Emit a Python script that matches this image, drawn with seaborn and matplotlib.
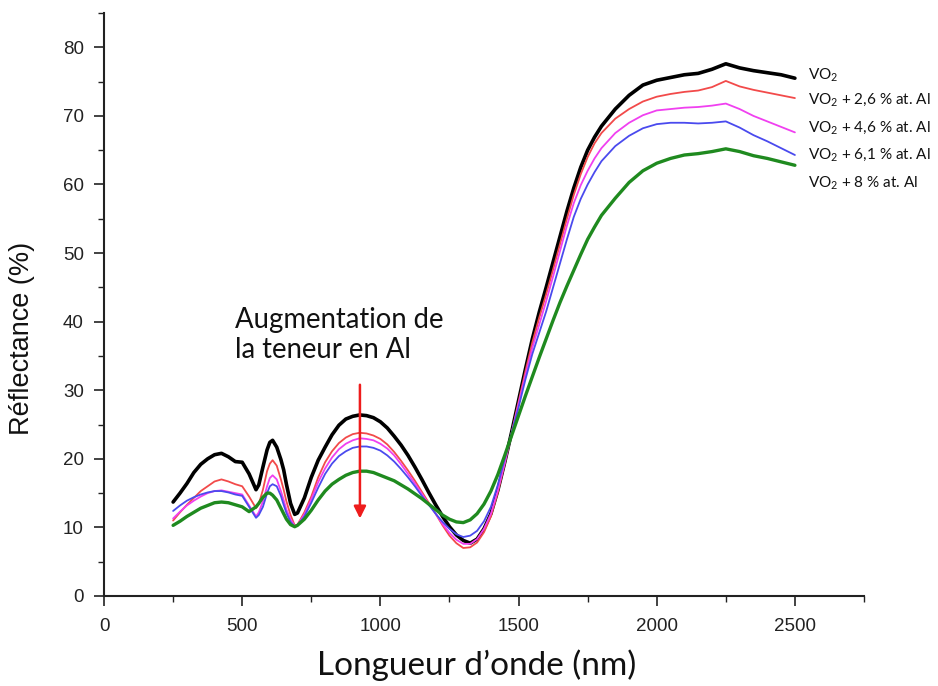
import matplotlib
matplotlib.use("Agg")
import matplotlib.pyplot as plt
import numpy as np
import pandas as pd
import seaborn as sns
from matplotlib import font_manager as fm
from matplotlib.ticker import MultipleLocator

# ---------------- data ----------------
wavelength = [250, 275, 300, 325, 350, 375, 400, 425, 450, 475, 500, 525, 550, 560, 575,
              590, 600, 610, 625, 640, 650, 660, 675, 690, 700, 725, 750, 775, 800, 825,
              850, 875, 900, 925,
              950, 975, 1000, 1025, 1050, 1075, 1100, 1125, 1150, 1175, 1200, 1225,
              1250, 1275, 1300, 1325, 1350, 1375, 1400, 1425, 1450, 1475, 1500, 1525,
              1550, 1575, 1600, 1625, 1650, 1675, 1700, 1725, 1750, 1775, 1800,
              1850, 1900, 1950, 2000, 2050, 2100, 2150, 2200, 2250, 2300, 2350,
              2400, 2450, 2500]

r_vo2 = [13.7, 15.0, 16.4, 18.0, 19.2, 20.0, 20.6, 20.8, 20.3, 19.6, 19.5, 17.8, 15.5, 16.2, 18.8,
         21.3, 22.4, 22.7, 21.7, 19.9, 18.4, 16.3, 13.5, 11.9, 12.1, 14.3, 17.3, 19.8, 21.7, 23.5,
         24.9, 25.8, 26.2, 26.4,
         26.3, 26.0, 25.4, 24.5, 23.3, 22.0, 20.5, 18.8, 17.0, 15.1, 13.3, 11.6,
         10.1, 8.9, 8.1, 7.7, 8.3, 9.8, 12.0, 15.4, 19.5, 23.9, 28.5, 33.1,
         37.5, 41.4, 45.0, 48.7, 52.4, 56.1, 59.5, 62.5, 65.0, 66.9, 68.5,
         71.0, 73.0, 74.5, 75.2, 75.6, 76.0, 76.2, 76.8, 77.6, 77.0, 76.6,
         76.3, 76.0, 75.5]

r_al26 = [11.0, 12.2, 13.3, 14.3, 15.3, 16.0, 16.7, 17.0, 16.7, 16.3, 16.0, 14.5, 12.8, 13.4, 15.5,
          18.2, 19.3, 19.8, 19.0, 17.0, 15.5, 13.8, 11.8, 10.3, 10.4, 12.2, 14.5, 17.3, 19.5, 21.1,
          22.3, 23.1, 23.6, 23.8,
          23.7, 23.4, 22.9, 22.1, 21.0, 19.7, 18.3, 16.8, 15.2, 13.6, 12.0, 10.3,
          8.8, 7.7, 7.0, 7.1, 7.8, 9.3, 11.6, 15.1, 19.3, 23.8, 28.3, 32.8,
          37.0, 40.6, 44.0, 47.6, 51.3, 55.0, 58.5, 61.5, 64.0, 66.0, 67.5,
          69.6, 71.0, 72.1, 72.8, 73.2, 73.5, 73.7, 74.2, 75.1, 74.3, 73.8,
          73.4, 73.0, 72.6]

r_al46 = [11.3, 12.3, 13.2, 13.9, 14.5, 15.0, 15.3, 15.4, 15.2, 15.0, 14.8, 13.2, 11.6, 12.2, 13.8,
          16.0, 17.2, 17.6, 17.0, 15.3, 14.0, 12.6, 11.2, 10.2, 10.3, 11.9, 14.1, 16.6, 18.6, 20.2,
          21.4, 22.2, 22.7, 23.0,
          22.9, 22.7, 22.2, 21.5, 20.5, 19.2, 17.8, 16.4, 14.9, 13.4, 12.0, 10.5,
          9.2, 8.2, 7.6, 7.6, 8.3, 9.8, 12.0, 15.4, 19.4, 23.7, 28.0, 32.2,
          36.2, 39.6, 43.0, 46.6, 50.3, 54.0, 57.3, 59.9, 62.0, 63.8, 65.3,
          67.5, 69.0, 70.1, 70.8, 71.0, 71.2, 71.3, 71.5, 71.8, 71.0, 70.0,
          69.2, 68.4, 67.6]

r_al61 = [12.4, 13.2, 13.9, 14.4, 14.8, 15.1, 15.3, 15.3, 15.1, 14.8, 14.6, 13.0, 11.4, 11.8, 13.0,
          15.0, 16.0, 16.3, 16.0, 14.6, 13.3, 12.1, 10.8, 10.1, 10.3, 11.6, 13.6, 15.8, 17.8, 19.3,
          20.4, 21.1, 21.6, 21.8,
          21.8, 21.6, 21.2, 20.5, 19.6, 18.5, 17.3, 16.0, 14.6, 13.3, 12.0, 10.8,
          9.8, 9.0, 8.6, 8.8, 9.5, 10.9, 13.0, 16.2, 20.0, 23.8, 27.5, 31.6,
          35.3, 38.4, 41.5, 45.0, 48.5, 52.0, 55.3, 57.9, 60.0, 61.8, 63.4,
          65.6, 67.1, 68.2, 68.8, 69.0, 69.0, 68.9, 69.0, 69.2, 68.3, 67.2,
          66.3, 65.3, 64.3]

r_al80 = [10.3, 10.9, 11.6, 12.2, 12.8, 13.2, 13.6, 13.7, 13.6, 13.3, 13.0, 12.3, 13.0, 13.5, 14.4,
          15.0, 15.0, 14.7, 14.0, 12.8, 12.0, 11.2, 10.4, 10.1, 10.3, 11.2, 12.5, 14.0, 15.3, 16.3,
          17.0, 17.6, 18.0, 18.2,
          18.2, 18.0, 17.6, 17.2, 16.8, 16.2, 15.6, 14.9, 14.2, 13.4, 12.6, 11.8,
          11.2, 10.8, 10.7, 11.1, 12.0, 13.4, 15.3, 17.7, 20.5, 23.4, 26.3, 29.2,
          32.0, 34.8, 37.5, 40.2, 42.8, 45.2, 47.5, 49.8, 52.0, 53.8, 55.5,
          58.0, 60.3, 62.0, 63.1, 63.8, 64.3, 64.5, 64.8, 65.2, 64.8, 64.2,
          63.8, 63.3, 62.8]

series_names = ["VO$_\\mathregular{2}$",
                "VO$_\\mathregular{2}$ + 2,6 % at. Al",
                "VO$_\\mathregular{2}$ + 4,6 % at. Al",
                "VO$_\\mathregular{2}$ + 6,1 % at. Al",
                "VO$_\\mathregular{2}$ + 8 % at. Al"]
series_values = [r_vo2, r_al26, r_al46, r_al61, r_al80]

x_ticks = [0, 500, 1000, 1500, 2000, 2500]
y_ticks = [0, 10, 20, 30, 40, 50, 60, 70, 80]

# ---------------- styles ----------------
colors = ["#000000", "#f24a4a", "#f040f0", "#4a4aee", "#1f8a1f"]
widths = [2.6, 1.3, 1.3, 1.3, 2.4]
label_y = [75.9, 72.3, 68.2, 64.3, 60.2]

installed = {f.name for f in fm.fontManager.ttflist}
narrow = "Liberation Sans Narrow" if "Liberation Sans Narrow" in installed else "Liberation Sans"
text_font = "Lato"

sns.set_style("ticks")
plt.rcParams["font.family"] = ["Liberation Sans", "DejaVu Sans"]

df = pd.concat([pd.DataFrame({"wl": wavelength, "R": v, "sample": n})
                for n, v in zip(series_names, series_values)], ignore_index=True)

fig = plt.figure(figsize=(9.38, 6.86), dpi=100)
ax = fig.add_axes([0.1109, 0.1312, 0.8102, 0.8498])

sns.lineplot(data=df, x="wl", y="R", hue="sample", size="sample",
             palette=dict(zip(series_names, colors)),
             sizes=dict(zip(series_names, widths)),
             hue_order=series_names, size_order=series_names,
             estimator=None, sort=False, legend=False, ax=ax)

ax.set_xlim(0, 2750)
ax.set_ylim(0, 85)
ax.set_xticks(x_ticks)
ax.set_yticks(y_ticks)
ax.xaxis.set_minor_locator(MultipleLocator(250))
ax.yaxis.set_minor_locator(MultipleLocator(5))
ax.tick_params(which="major", direction="out", length=7.5, width=1.2, colors="#222222")
ax.tick_params(which="minor", direction="out", length=4.5, width=1.0, colors="#222222")
ax.tick_params(axis="y", which="major", pad=7)
ax.tick_params(axis="x", which="major", pad=8)
for lab in ax.get_xticklabels():
    lab.set_fontfamily(narrow)
    lab.set_fontsize(13.5)
for lab in ax.get_yticklabels():
    lab.set_fontfamily("Liberation Sans")
    lab.set_fontsize(13.5)
sns.despine(ax=ax)
for s in ("left", "bottom"):
    ax.spines[s].set_linewidth(1.5)
    ax.spines[s].set_color("#222222")

ax.set_xlabel("")
ax.set_ylabel("")
fig.text(477 / 938, 1 - 665 / 686, "Longueur d\u2019onde (nm)", fontsize=24,
         family=text_font, ha="center", va="center", color="#111111")
fig.text(22 / 938, 1 - 338 / 686, "Réflectance (%)", fontsize=19.5, rotation=90,
         family="Liberation Sans", ha="center", va="center", color="#111111")

for n, yv in zip(series_names, label_y):
    ax.text(2547, yv, n, fontsize=11, family=text_font, va="center", ha="left", color="#111111")

ax.text(474, 42.2, "Augmentation de\nla teneur en Al", fontsize=19.8, family=text_font,
        ha="left", va="top", linespacing=1.2, color="#111111")
ax.annotate("", xy=(926, 11.3), xytext=(926, 30.8),
            arrowprops=dict(arrowstyle="-|>", color="#ee1c1c", lw=1.8,
                            mutation_scale=18, shrinkA=0, shrinkB=0))

fig.savefig("out.png", dpi=100)
